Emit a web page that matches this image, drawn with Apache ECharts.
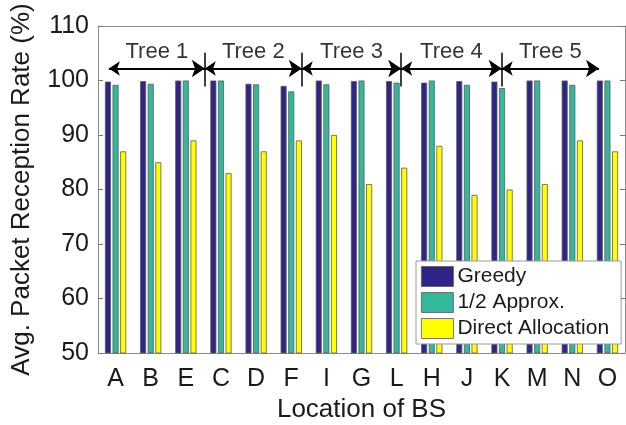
<!DOCTYPE html>
<html>
<head>
<meta charset="utf-8">
<script src="https://cdn.jsdelivr.net/npm/echarts@6/dist/echarts.min.js"></script>
<style>html,body{margin:0;padding:0;background:#fff}#c{width:626px;height:425px}</style>
</head>
<body>
<div id="c"></div>
<script>
const categories = ['A','B','E','C','D','F','I','G','L','H','J','K','M','N','O'];
const greedy = [99.8, 99.9, 100, 100, 99.4, 99.0, 100, 99.9, 99.9, 99.6, 99.9, 99.8, 100, 100, 100];
const approx = [99.2, 99.4, 100, 100, 99.3, 98.0, 99.3, 100, 99.6, 100, 99.2, 98.6, 100, 99.2, 100];
const direct = [87, 85, 89, 83, 87, 89, 90, 81, 84, 88, 79, 80, 81, 89, 87];
const seriesNames = ['Greedy', '1/2 Approx.', 'Direct Allocation'];
const yTicks = [50, 60, 70, 80, 90, 100, 110];
const treeNames = ['Tree 1', 'Tree 2', 'Tree 3', 'Tree 4', 'Tree 5'];
// tree bracket positions in category-index units (A = 1)
const treeBounds = [0.81, 3.54, 6.30, 9.13, 11.99, 14.76];
const arrowLevel = 102.2;
const dividerSpan = [98.9, 105.1];
const treeLabelLevel = 105.2;

const font = 'Liberation Sans, Arial, Helvetica, sans-serif';
const chart = echarts.init(document.getElementById('c'), null, {renderer: 'canvas'});

const arrowData = [];
for (let i = 0; i < treeNames.length; i++) {
  arrowData.push({coords: [[treeBounds[i], arrowLevel], [treeBounds[i + 1], arrowLevel]]});
}
const dividerData = [];
for (let i = 1; i < treeBounds.length - 1; i++) {
  dividerData.push({coords: [[treeBounds[i], dividerSpan[0]], [treeBounds[i], dividerSpan[1]]]});
}
const labelData = treeNames.map((n, i) => [(treeBounds[i] + treeBounds[i + 1]) / 2, treeLabelLevel, n]);

const barBase = {
  type: 'bar', xAxisIndex: 0, yAxisIndex: 0,
  barWidth: 6, barGap: '27%',
  itemStyle: {borderColor: '#5a5a5a', borderWidth: 0.8}
};
const colors = ['#2f2586', '#33b89b', '#ffff00'];

chart.setOption({
  animation: false,
  backgroundColor: '#fff',
  textStyle: {fontFamily: font},
  grid: {left: 98, right: 1, top: 26, bottom: 72, containLabel: false, outerBoundsMode: 'none'},
  legend: {
    orient: 'vertical', left: 416, top: 261,
    data: seriesNames,
    itemWidth: 32, itemHeight: 20, itemGap: 5,
    padding: [5, 12, 5, 5],
    backgroundColor: '#fff', borderColor: '#9a9a9a', borderWidth: 1,
    textStyle: {fontFamily: font, fontSize: 21, color: '#1a1a1a', padding: [0, 0, 0, -1]},
    itemStyle: {borderColor: '#5a5a5a', borderWidth: 0.8},
    icon: 'rect', z: 10
  },
  xAxis: [
    {
      type: 'category', data: categories, position: 'bottom',
      axisLine: {lineStyle: {color: '#8a8a8a', width: 1}},
      axisTick: {show: false},
      axisLabel: {fontSize: 25, color: '#1a1a1a', margin: 14, fontFamily: font},
      name: 'Location of BS', nameLocation: 'middle', nameGap: 43,
      nameTextStyle: {fontSize: 26, color: '#1a1a1a', fontFamily: font}
    },
    {type: 'value', min: 0.5, max: 15.5, show: false},
    {
      type: 'category', data: categories, position: 'top',
      axisLine: {lineStyle: {color: '#8a8a8a', width: 1}},
      axisTick: {inside: true, length: 4, alignWithLabel: true, lineStyle: {color: '#777'}},
      axisLabel: {show: false}
    }
  ],
  yAxis: [
    {
      type: 'value', min: 50, max: 110, interval: 10,
      axisLine: {show: true, lineStyle: {color: '#8a8a8a', width: 1}},
      axisTick: {show: true, inside: true, length: 5, lineStyle: {color: '#777'}},
      splitLine: {show: false},
      axisLabel: {fontSize: 25, color: '#1a1a1a', margin: 9, fontFamily: font,
        formatter: v => yTicks.includes(v) ? String(v) : ''},
      name: 'Avg. Packet Reception Rate (%)', nameLocation: 'middle', nameGap: 63,
      nameTextStyle: {fontSize: 26, color: '#1a1a1a', fontFamily: font}
    },
    {
      type: 'value', min: 50, max: 110, interval: 10, position: 'right',
      axisLine: {show: true, lineStyle: {color: '#8a8a8a', width: 1}},
      axisTick: {show: true, inside: true, length: 5, lineStyle: {color: '#777'}},
      splitLine: {show: false},
      axisLabel: {show: false}
    }
  ],
  series: [
    Object.assign({}, barBase, {name: seriesNames[0], data: greedy, itemStyle: Object.assign({}, barBase.itemStyle, {color: colors[0]})}),
    Object.assign({}, barBase, {name: seriesNames[1], data: approx, itemStyle: Object.assign({}, barBase.itemStyle, {color: colors[1]})}),
    Object.assign({}, barBase, {name: seriesNames[2], data: direct, itemStyle: Object.assign({}, barBase.itemStyle, {color: colors[2]})}),
    {
      type: 'lines', coordinateSystem: 'cartesian2d', xAxisIndex: 1, yAxisIndex: 0,
      data: arrowData, symbol: ['arrow', 'arrow'], symbolSize: [11, 13],
      lineStyle: {color: '#000', width: 2, opacity: 1}, silent: true, z: 5
    },
    {
      type: 'lines', coordinateSystem: 'cartesian2d', xAxisIndex: 1, yAxisIndex: 0,
      data: dividerData, symbol: ['none', 'none'],
      lineStyle: {color: '#000', width: 1.5, opacity: 1}, silent: true, z: 5
    },
    {
      type: 'scatter', xAxisIndex: 1, yAxisIndex: 0, data: labelData, symbolSize: 0,
      label: {show: true, position: 'inside', formatter: p => p.value[2],
        fontSize: 22, color: '#000', fontFamily: font},
      silent: true, z: 5
    }
  ]
});
</script>
</body>
</html>
